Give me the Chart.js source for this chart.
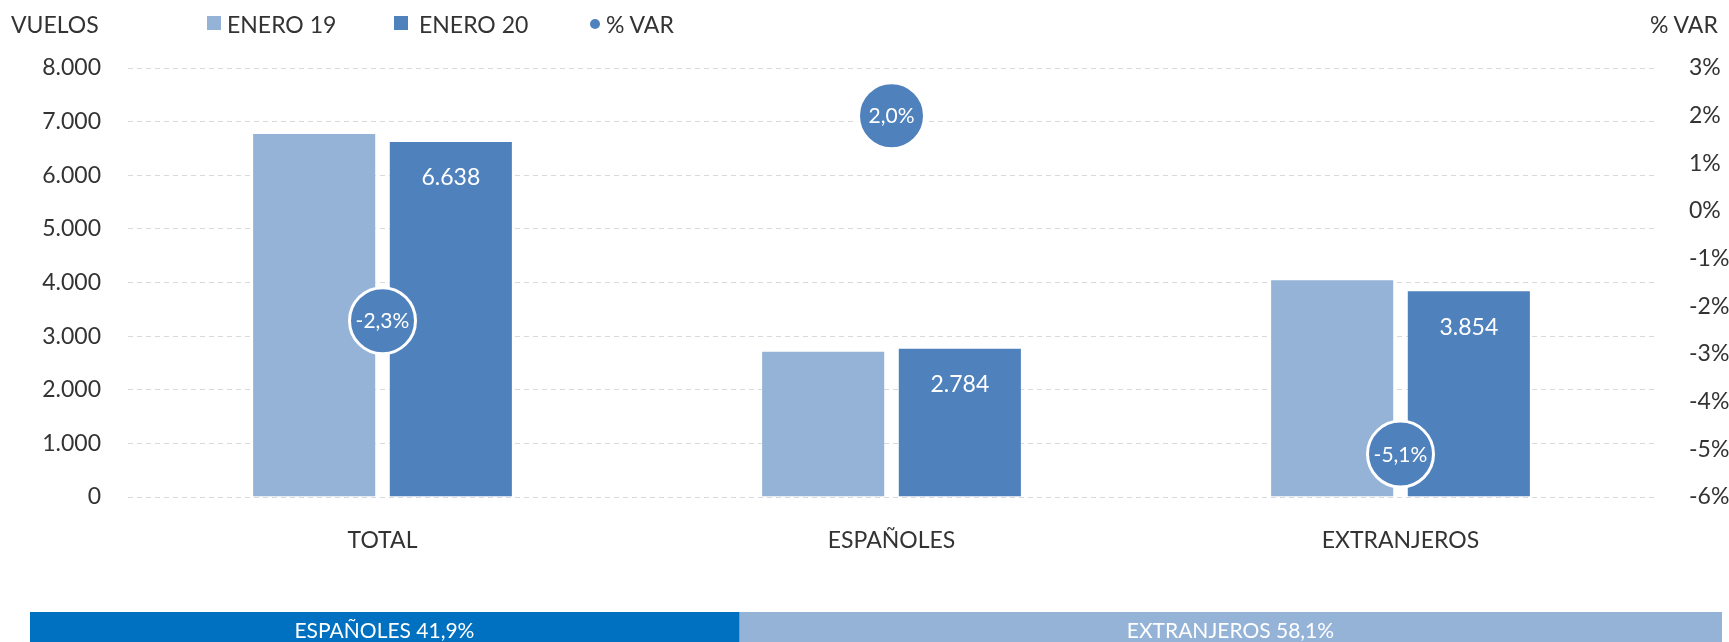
<!DOCTYPE html>
<html>
<head>
<meta charset="utf-8">
<script src="https://cdn.jsdelivr.net/npm/chart.js@4.4.1/dist/chart.umd.min.js"></script>
<style>
body{margin:0;width:1729px;height:642px;overflow:hidden;background:#fff;font-family:Lato,sans-serif;color:#333;}
#wrap{position:relative;width:1729px;height:642px;}
.t{position:absolute;top:10px;font-size:23px;line-height:28px;white-space:nowrap;}
.sq{position:absolute;top:16px;width:14px;height:14px;}
.dot{position:absolute;top:19px;width:10px;height:10px;border-radius:50%;background:#4F81BD;}
#main{position:absolute;left:0;top:0;}
#parts{position:absolute;left:0;top:612px;}
</style>
</head>
<body>
<div id="wrap">
  <canvas id="main" width="1729" height="565"></canvas>
  <canvas id="parts" width="1729" height="36"></canvas>
  <!-- leyenda y titulos de ejes -->
  <div class="t" style="left:11px">VUELOS</div>
  <div class="sq" style="left:207px;background:#95B3D7"></div>
  <div class="t" style="left:227px">ENERO 19</div>
  <div class="sq" style="left:394px;background:#4F81BD"></div>
  <div class="t" style="left:419px">ENERO 20</div>
  <div class="dot" style="left:590px"></div>
  <div class="t" style="left:606px">% VAR</div>
  <div class="t" style="left:1650px">% VAR</div>
</div>
<script>
// datos
const categorias = ['TOTAL', 'ESPAÑOLES', 'EXTRANJEROS'];
const enero19 = [6790, 2729, 4061];
const enero20 = [6638, 2784, 3854];
const variacion = [-2.3, 2.0, -5.1];

const partesNombres = ['ESPAÑOLES', 'EXTRANJEROS'];
const partesValores = [41.9, 58.1];

/******************************************/
function fmt(v){
    return String(v).replace(/\B(?=(\d{3})+(?!\d))/g, '.');
}
function pct(v){
    return v.toFixed(1).replace('.', ',') + '%';
}

// etiquetas dentro de barras y burbujas
const etiquetas = {
    id: 'etiquetas',
    afterDatasetsDraw(chart){
        let ctx = chart.ctx;
        ctx.save();
        ctx.fillStyle = '#fff';
        ctx.textAlign = 'center';
        ctx.textBaseline = 'middle';
        ctx.font = '23px Lato';
        chart.getDatasetMeta(1).data.forEach((bar, i) => {
            ctx.fillText(fmt(enero20[i]), bar.x, bar.y + 37);
        });
        ctx.font = '21px Lato';
        chart.getDatasetMeta(2).data.forEach((pt, i) => {
            ctx.fillText(pct(variacion[i]), pt.x, pt.y + 1);
        });
        ctx.restore();
    }
};

var ctx = document.getElementById('main').getContext('2d');
var myChart = new Chart(ctx, {
    type: 'bar',
    data: {
        labels: categorias,
        datasets: [{
            label: 'ENERO 19',
            data: enero19,
            backgroundColor: '#95B3D7',
            borderColor: 'rgba(255,255,255,0.35)',
            borderWidth: 1,
            yAxisID: 'y',
            order: 1
        },{
            label: 'ENERO 20',
            data: enero20,
            backgroundColor: '#4F81BD',
            borderColor: 'rgba(255,255,255,0.35)',
            borderWidth: 1,
            yAxisID: 'y',
            order: 1
        },{
            type: 'line',
            label: '% VAR',
            data: variacion,
            showLine: false,
            pointRadius: 33,
            pointHoverRadius: 33,
            pointBackgroundColor: '#4F81BD',
            pointBorderColor: '#fff',
            pointBorderWidth: 3,
            yAxisID: 'y2',
            order: 0
        }]
    },
    options: {
        responsive: false,
        animation: false,
        events: [],
        categoryPercentage: 0.537,
        barPercentage: 0.908,
        layout: { padding: { top: 68, left: 0, right: 0, bottom: 0 } },
        plugins: { legend: { display: false }, tooltip: { enabled: false } },
        scales: {
            x: {
                grid: { display: false },
                border: { display: false },
                ticks: { color: '#333', font: { family: 'Lato', size: 23 }, padding: 22 },
                afterFit: s => { s.height = 68; }
            },
            y: {
                position: 'left',
                min: 0, max: 8000,
                grid: { color: '#d9d9d9', drawTicks: false },
                border: { display: false, dash: [5, 4] },
                ticks: { stepSize: 1000, color: '#333', font: { family: 'Lato', size: 23 }, padding: 27, callback: v => fmt(v) },
                afterFit: s => { s.width = 128; }
            },
            y2: {
                position: 'right',
                min: -6, max: 3,
                grid: { display: false },
                border: { display: false },
                ticks: { stepSize: 1, color: '#333', font: { family: 'Lato', size: 23 }, padding: 26, callback: v => v + '%' },
                afterFit: s => { s.width = 74; }
            }
        }
    },
    plugins: [etiquetas]
});

/******************************************/
// franja inferior
const textoPartes = {
    id: 'textoPartes',
    afterDatasetsDraw(chart){
        let ctx = chart.ctx;
        ctx.save();
        ctx.fillStyle = '#fff';
        ctx.textAlign = 'center';
        ctx.textBaseline = 'middle';
        ctx.font = '21px Lato';
        chart.data.datasets.forEach((d, i) => {
            let bar = chart.getDatasetMeta(i).data[0];
            ctx.fillText(partesNombres[i] + ' ' + pct(partesValores[i]), (bar.x + bar.base) / 2, bar.y + 1);
        });
        ctx.restore();
    }
};

var ctx2 = document.getElementById('parts').getContext('2d');
var partsChart = new Chart(ctx2, {
    type: 'bar',
    data: {
        labels: ['cuota'],
        datasets: [{
            label: partesNombres[0],
            data: [partesValores[0]],
            backgroundColor: '#0070C0'
        },{
            label: partesNombres[1],
            data: [partesValores[1]],
            backgroundColor: '#95B3D7'
        }]
    },
    options: {
        indexAxis: 'y',
        responsive: false,
        animation: false,
        events: [],
        categoryPercentage: 1,
        barPercentage: 1,
        layout: { padding: { left: 30, right: 7, top: 0, bottom: 0 } },
        plugins: { legend: { display: false }, tooltip: { enabled: false } },
        scales: {
            x: { display: false, stacked: true, min: 0, max: 100 },
            y: { display: false, stacked: true }
        }
    },
    plugins: [textoPartes]
});
</script>
</body>
</html>
